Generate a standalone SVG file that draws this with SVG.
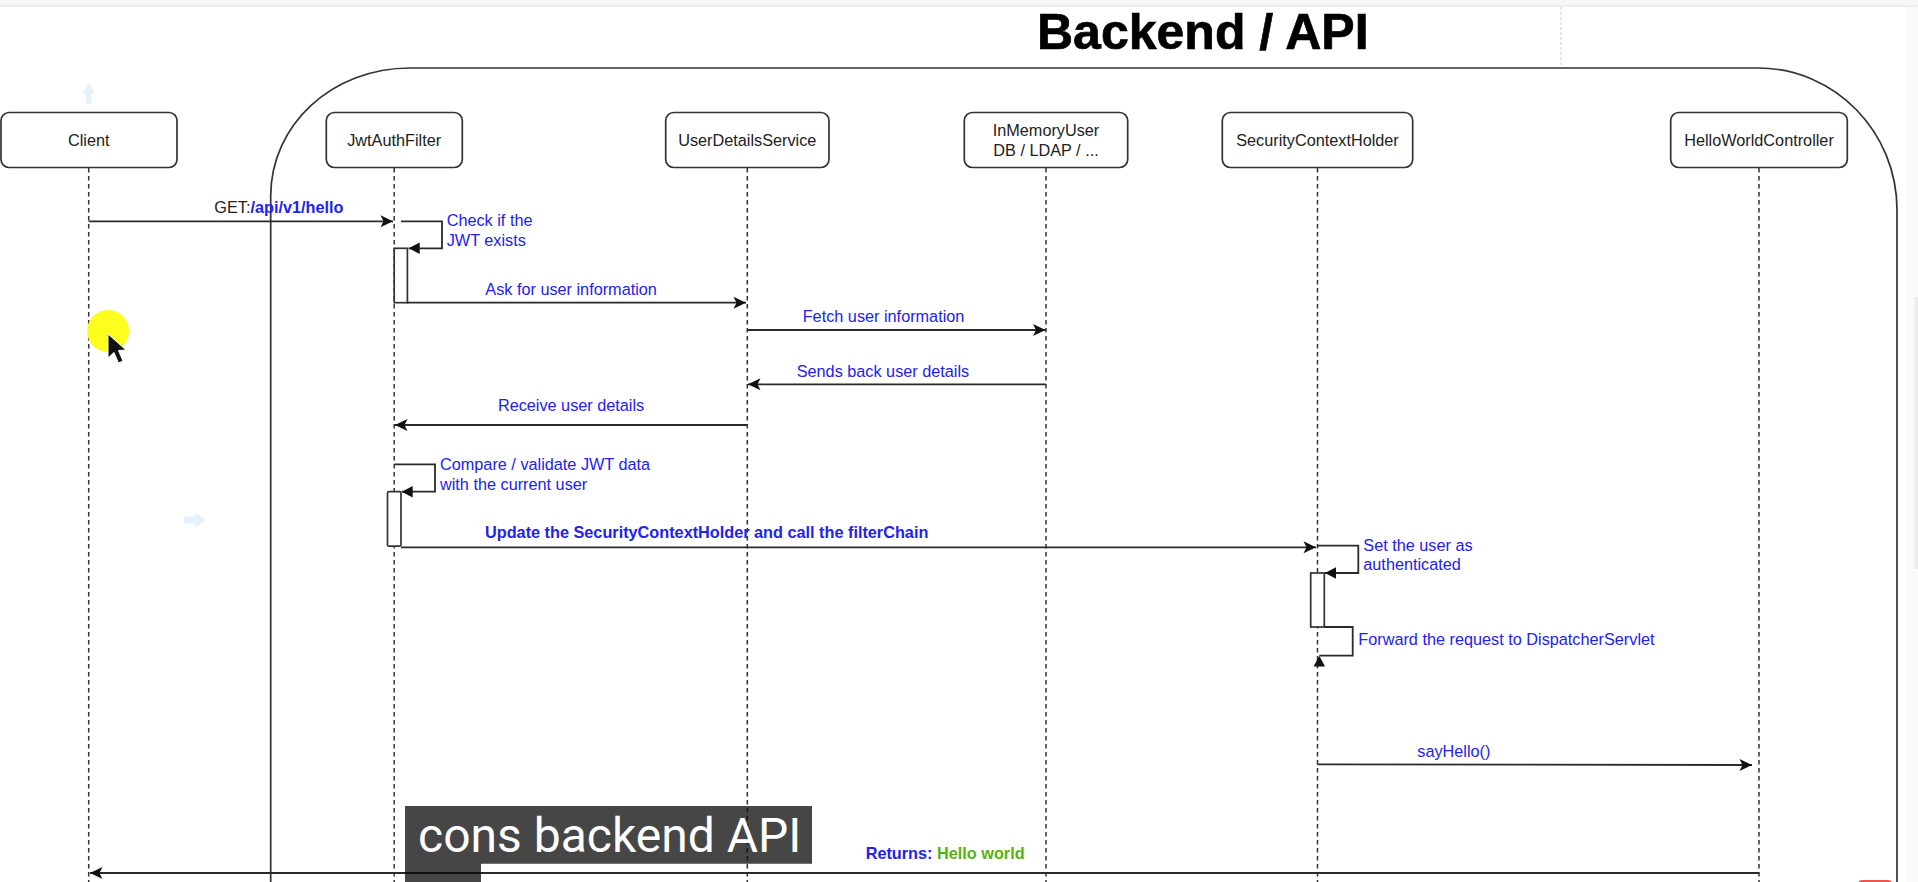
<svg xmlns="http://www.w3.org/2000/svg" width="1918" height="882" viewBox="0 0 1918 882">
<style>
text{font-family:"Liberation Sans",Arial,sans-serif;font-size:16.25px}
.box{fill:#fff;stroke:#333;stroke-width:1.7}
.name{fill:#222;text-anchor:middle}
.life{fill:none;stroke:#333;stroke-width:1.5;stroke-dasharray:4.5 3.5}
.msg{fill:none;stroke:#2a2a2a;stroke-width:1.8}
.act{fill:#fff;stroke:#333;stroke-width:1.7}
.lab{fill:#2222ee}
.b{font-weight:700}
.open{marker-end:url(#open)}
.block{marker-end:url(#block)}
</style>
<defs>
<marker id="open" markerUnits="userSpaceOnUse" markerWidth="16" markerHeight="16" refX="13" refY="8" orient="auto"><path d="M0.5 2L13 8L0.5 14L3.5 8Z" fill="#111"/></marker>
<marker id="block" markerUnits="userSpaceOnUse" markerWidth="16" markerHeight="16" refX="11" refY="8" orient="auto"><path d="M0 2.2L11 8L0 13.8Z" fill="#111"/></marker>
</defs>
<rect width="1918" height="882" fill="#fff"/>
<g id="chrome">
<rect x="0" y="0" width="1918" height="5" fill="#f7f7f7"/>
<rect x="0" y="5" width="1918" height="2" fill="#eee"/>
<rect x="1907" y="7" width="11" height="875" fill="#fafafa"/>
<rect x="1914.5" y="297" width="3.5" height="272" fill="#ececec"/>
<rect x="1858" y="880" width="34" height="8" rx="4" fill="#f05555"/>
<line x1="1561" y1="7" x2="1561" y2="65" stroke="#ccc" stroke-width="1" stroke-dasharray="3 2"/>
</g>
<path id="frame" d="M270.7 882V196C270.7 125 332 68 410 68H1758C1835 68 1897 132 1897 210V882" fill="none" stroke="#333" stroke-width="1.7"/>
<text id="title" x="1037" y="49" style="font-size:50px;font-weight:700;fill:#000;stroke:#000;stroke-width:.7">Backend / API</text>
<g id="faint-arrows" fill="#e6f2fb">
<path d="M88.7 82.5L95 93.5H91.5V103.5H86V93.5H82.5Z"/>
<path d="M184 516.5H195V512.5L206 520L195 527.5V523.5H184Z"/>
</g>
<g id="lifelines">
<line class="life" x1="88.7" y1="168" x2="88.7" y2="882"/>
<line class="life" x1="394.2" y1="168" x2="394.2" y2="882"/>
<line class="life" x1="747.3" y1="168" x2="747.3" y2="882"/>
<line class="life" x1="1046" y1="168" x2="1046" y2="882"/>
<line class="life" x1="1317.5" y1="168" x2="1317.5" y2="882"/>
<line class="life" x1="1759" y1="168" x2="1759" y2="882"/>
</g>
<g id="node-client"><rect class="box" x="1" y="112.5" width="176" height="55" rx="8"/><text class="name" x="88.7" y="146">Client</text></g>
<g id="node-jwt"><rect class="box" x="326.3" y="112.5" width="136" height="55" rx="8"/><text class="name" x="394.2" y="146">JwtAuthFilter</text></g>
<g id="node-uds"><rect class="box" x="665.7" y="112.5" width="163.3" height="55" rx="8"/><text class="name" x="747.3" y="146">UserDetailsService</text></g>
<g id="node-mem"><rect class="box" x="964.3" y="112.5" width="163.4" height="55" rx="8"/><text class="name" x="1046" y="136">InMemoryUser</text><text class="name" x="1046" y="156">DB / LDAP / ...</text></g>
<g id="node-sch"><rect class="box" x="1222.3" y="112.5" width="190.4" height="55" rx="8"/><text class="name" x="1317.5" y="146">SecurityContextHolder</text></g>
<g id="node-hwc"><rect class="box" x="1670.7" y="112.5" width="176.6" height="55" rx="8"/><text class="name" x="1759" y="146">HelloWorldController</text></g>
<g id="activations">
<rect class="act" x="394.2" y="248.3" width="13.2" height="54.4"/>
<rect class="act" x="387.5" y="491.7" width="13.5" height="54.5" rx="1.5"/>
<rect class="act" x="1310.7" y="573" width="13.6" height="54"/>
</g>
<g id="connectors">
<line class="msg open" x1="88.7" y1="221.3" x2="393" y2="221.3"/>
<path class="msg block" d="M401 221.3H442V248.3H408.7"/>
<line class="msg open" x1="407" y1="302.7" x2="746" y2="302.7"/>
<line class="msg open" x1="747.3" y1="330" x2="1045.5" y2="330"/>
<line class="msg open" x1="1046" y1="384.3" x2="748" y2="384.3"/>
<line class="msg open" x1="747.3" y1="425" x2="395" y2="425"/>
<path class="msg block" d="M394.2 464.3H435V491.7H401.7"/>
<line class="msg open" x1="401" y1="547.3" x2="1316" y2="547.3"/>
<path class="msg block" d="M1317.5 545.7H1358.3V573H1325"/>
<path class="msg" d="M1324.3 627H1352.7V655.7H1319.3"/>
<path d="M1319.3 655.7L1325 666.5H1313.6Z" fill="#111"/>
<line class="msg open" x1="1317.5" y1="764.3" x2="1752" y2="765"/>
<line class="msg open" x1="1759" y1="873" x2="90" y2="873"/>
</g>
<g id="labels">
<text x="214.3" y="213.3" fill="#222">GET:<tspan class="lab b">/api/v1/hello</tspan></text>
<text class="lab" x="446.7" y="226.3">Check if the</text>
<text class="lab" x="446.7" y="246">JWT exists</text>
<text class="lab" x="485.3" y="295">Ask for user information</text>
<text class="lab" x="802.7" y="322">Fetch user information</text>
<text class="lab" x="796.7" y="377.3">Sends back user details</text>
<text class="lab" x="497.9" y="410.7">Receive user details</text>
<text class="lab" x="440" y="470">Compare / validate JWT data</text>
<text class="lab" x="440" y="489.7">with the current user</text>
<text class="lab b" x="485" y="538.3">Update the SecurityContextHolder and call the filterChain</text>
<text class="lab" x="1363.3" y="551">Set the user as</text>
<text class="lab" x="1363.3" y="570">authenticated</text>
<text class="lab" x="1358.3" y="645">Forward the request to DispatcherServlet</text>
<text class="lab" x="1417.3" y="756.7">sayHello()</text>
<text class="b" x="865.7" y="858.8" fill="#2222ee">Returns: <tspan fill="#55b30f">Hello world</tspan></text>
</g>
<g id="pointer">
<circle cx="108" cy="331" r="21" fill="#fdfd1e"/>
<path d="M108 334V358L114 352.5L118.5 363L123 361L118.5 350.5L126 350Z" fill="#111" stroke="#fff" stroke-width="1"/>
</g>
<g id="caption">
<path d="M405 806H812V863.7H481V882H405Z" fill="#080808" fill-opacity=".75"/>
<text x="418" y="852" style="font-family:Roboto,'Liberation Sans',sans-serif;font-size:48px;fill:#fff">cons backend API</text>
</g>
</svg>
